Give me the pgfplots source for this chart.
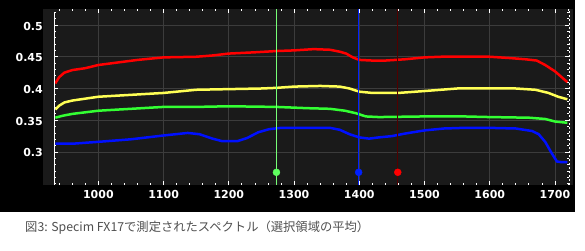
\documentclass[border=0pt]{standalone}
\usepackage{pgfplots}
\pgfplotsset{compat=1.18}
\usepackage{fontspec}
\newfontfamily\tickfont{DejaVu Sans}
\newfontfamily\cjk{Noto Sans CJK JP}
\definecolor{bgblack}{HTML}{000000}
\definecolor{plotgray}{HTML}{1A1A1A}
\definecolor{gridgray}{HTML}{3C3C3C}
\definecolor{cred}{HTML}{FF0000}
\definecolor{cyellow}{HTML}{FFFF55}
\definecolor{cgreen}{HTML}{33FF33}
\definecolor{cblue}{HTML}{0010FF}
\definecolor{vgreen}{HTML}{77FF77}
\definecolor{vblue}{HTML}{0020FF}
\definecolor{vred}{HTML}{500000}
\definecolor{captiongray}{HTML}{505050}
\begin{document}
\begin{tikzpicture}[x=1pt,y=1pt]
\fill[white] (0,0) rectangle (585,250);
\fill[bgblack] (0,38) rectangle (575,250);
\fill[plotgray] (43,65) rectangle (573,241);
\begin{axis}[
  at={(54pt,65pt)}, anchor=south west,
  scale only axis, width=515pt, height=176pt,
  xmin=932, xmax=1721.5, ymin=0.248, ymax=0.5252,
  axis line style={draw=none},
  xtick={1000,1100,1200,1300,1400,1500,1600,1700},
  xticklabels={1000,1100,1200,1300,1400,1500,1600,1700},
  ytick={0.3,0.35,0.4,0.45,0.5},
  yticklabels={0.3,0.35,0.4,0.45,0.5},
  minor xtick={940,960,...,1720},
  minor ytick={0.25,0.26,...,0.52},
  tick align=inside,
  major tick length=4pt, minor tick length=2pt,
  tick style={white, line width=0.8pt},
  grid=major,
  major grid style={gridgray, line width=0.9pt},
  ticklabel style={font=\tickfont\bfseries\fontsize{11}{13}\selectfont, text=white, inner sep=0pt},
  xticklabel style={anchor=base, yshift=-13pt},
  yticklabel style={anchor=base east, xshift=-11pt, yshift=-5pt},
  scaled y ticks=false,
  clip=true,
]
\addplot[cred, line width=2.5pt] coordinates {(934,0.408) (940,0.418) (948,0.425) (960,0.429) (980,0.432) (1000,0.437) (1030,0.441) (1060,0.445) (1100,0.449) (1150,0.450) (1175,0.452) (1200,0.455) (1240,0.457) (1273,0.459) (1300,0.460) (1330,0.462) (1355,0.461) (1370,0.458) (1380,0.455) (1390,0.449) (1400,0.445) (1420,0.444) (1440,0.444) (1470,0.446) (1500,0.449) (1525,0.450) (1560,0.450) (1600,0.450) (1630,0.448) (1655,0.446) (1672,0.444) (1685,0.437) (1700,0.427) (1710,0.418) (1719,0.410)};
\addplot[cyellow, line width=2.5pt] coordinates {(934,0.367) (940,0.373) (948,0.378) (960,0.381) (980,0.384) (1000,0.387) (1050,0.390) (1100,0.393) (1150,0.398) (1200,0.399) (1250,0.400) (1273,0.401) (1300,0.403) (1340,0.404) (1370,0.403) (1385,0.400) (1400,0.395) (1420,0.393) (1460,0.393) (1500,0.396) (1550,0.400) (1600,0.400) (1640,0.400) (1670,0.398) (1690,0.393) (1705,0.387) (1719,0.383)};
\addplot[cgreen, line width=2.5pt] coordinates {(934,0.354) (945,0.357) (960,0.360) (1000,0.365) (1050,0.368) (1100,0.371) (1150,0.371) (1200,0.372) (1273,0.371) (1320,0.369) (1355,0.368) (1378,0.365) (1395,0.361) (1410,0.356) (1430,0.355) (1500,0.356) (1560,0.356) (1600,0.355) (1660,0.354) (1685,0.352) (1700,0.348) (1719,0.346)};
\addplot[cblue, line width=2.5pt] coordinates {(934,0.313) (960,0.313) (1000,0.316) (1050,0.320) (1100,0.326) (1137,0.330) (1155,0.328) (1175,0.321) (1190,0.317) (1213,0.317) (1228,0.322) (1245,0.331) (1262,0.336) (1280,0.338) (1330,0.338) (1355,0.338) (1370,0.335) (1385,0.328) (1400,0.323) (1415,0.321) (1430,0.323) (1450,0.325) (1470,0.329) (1500,0.334) (1530,0.337) (1560,0.338) (1600,0.338) (1640,0.337) (1665,0.333) (1675,0.328) (1685,0.316) (1695,0.298) (1703,0.285) (1710,0.284) (1719,0.284)};
\addplot[vred, line width=0.8pt] coordinates {(1459,0.248) (1459,0.5252)};
\addplot[vgreen, line width=1.5pt] coordinates {(1273,0.248) (1273,0.5252)};
\addplot[vblue, line width=1.5pt] coordinates {(1399,0.248) (1399,0.5252)};
\addplot[only marks, mark=*, mark size=3.5pt, color=vgreen!80!green] coordinates {(1273,0.268)};
\addplot[only marks, mark=*, mark size=3.5pt, color=vblue] coordinates {(1399,0.268)};
\addplot[only marks, mark=*, mark size=3.5pt, color=cred] coordinates {(1459,0.268)};
\end{axis}
\draw[white, line width=0.9pt] (54,65) -- (54,238);
\draw[white, line width=0.8pt, dash pattern=on 2pt off 2pt] (569,65) -- (569,241);
\node[anchor=west, inner sep=0pt, text=captiongray, font=\cjk\fontsize{12.3}{14}\selectfont] at (25,22) {図3: Specim FX17で測定されたスペクトル（選択領域の平均）};
\end{tikzpicture}
\end{document}
